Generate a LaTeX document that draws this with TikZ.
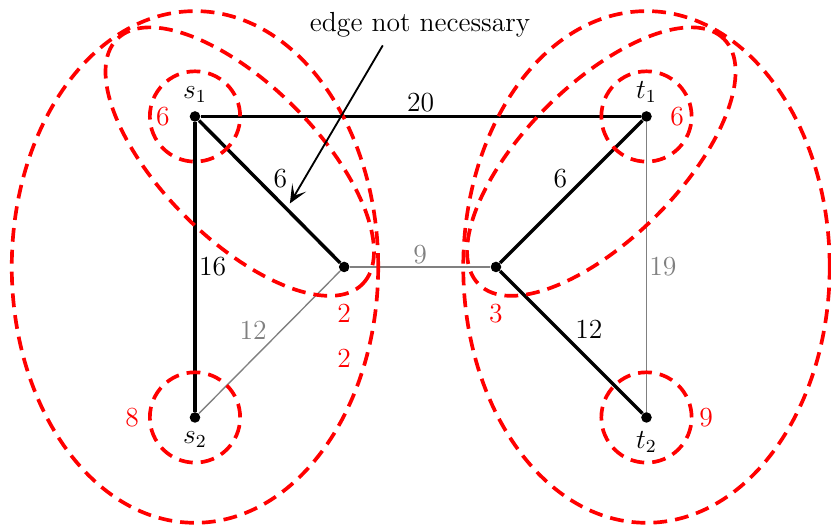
\documentclass[tikz,border=0pt]{standalone}
\usetikzlibrary{arrows.meta, positioning, calc}
\tikzset{
    >={Stealth[length=8pt, width=7pt, inset=4pt]},
    % Vertices
    vertex/.style={circle, fill=black, inner sep=0pt, minimum size=4.6pt},
    % Edges
    heavy/.style={line width=1.5pt, black},
    light/.style={semithick, gray},
    % Cuts & Labels
    cut/.style={draw=red, ultra thick, dash pattern=on 6pt off 3.5pt},
    wt/.style={text=red, font=\large},
    lbl/.style={font=\large, inner sep=1pt}
}
\begin{document}
\begin{tikzpicture}[every label/.style={font=\large}]
\useasboundingbox (-2.98,-1.65) rectangle (9.72,6.38);

\node[vertex, label=above:$s_1$] (s1) at (0,4.6) {};
\node[vertex, label=below:$s_2$] (s2) at (0,0) {};
\node[vertex, label=above:$t_1$] (t1) at (6.9,4.6) {};
\node[vertex, label=below:$t_2$] (t2) at (6.9,0) {};
\node[vertex] (a) at (2.28,2.3) {};
\node[vertex] (b) at (4.6,2.3) {};

\draw[heavy] (s1) -- node[lbl, above] {20} (t1);
\draw[heavy] (s1) -- node[lbl, above right] {6} (a);
\draw[heavy] (s1) -- node[lbl, right] {16} (s2);
\draw[light] (a) -- node[lbl, above] {9} (b);
\draw[light] (s2) -- node[lbl, above left] {12} (a);
\draw[heavy] (t1) -- node[lbl, above left] {6} (b);
\draw[heavy] (b) -- node[lbl, above right] {12} (t2);
\draw[light] (t1) -- node[lbl, right] {19} (t2);

% cuts
\draw[cut] (s1) circle (0.69);
\draw[cut] (s2) circle (0.69);
\draw[cut] (t1) circle (0.69);
\draw[cut] (t2) circle (0.69);
\draw[cut] ($(s1)!0.3!(a)$) circle [x radius=2.65, y radius=1.18, rotate=-45];
\draw[cut] ($(t1)!0.3!(b)$) circle [x radius=2.65, y radius=1.18, rotate=45];
\draw[cut] ($(s1)!0.5!(s2)$) ellipse (2.8 and 3.91);
\draw[cut] ($(t1)!0.5!(t2)$) ellipse (2.8 and 3.91);

\node[wt] (ws1) at (-0.49,4.6) {6};
\node[wt] (ws2) at (-0.96,0) {8};
\node[wt] (wt1) at (7.37,4.6) {6};
\node[wt] (wt2) at (7.81,0) {9};
\node[wt] (wa1) at (2.28,1.59) {2};
\node[wt] (wa2) at (2.28,0.9) {2};
\node[wt] (wb) at (4.6,1.59) {3};

\node[font=\large] (note) at (3.44,6.0) {edge not necessary};
\coordinate (hint) at (1.45,3.27);
\draw[->, thick] ([xshift=-0.57cm]note.south) -- (hint);

\end{tikzpicture}
\end{document}
